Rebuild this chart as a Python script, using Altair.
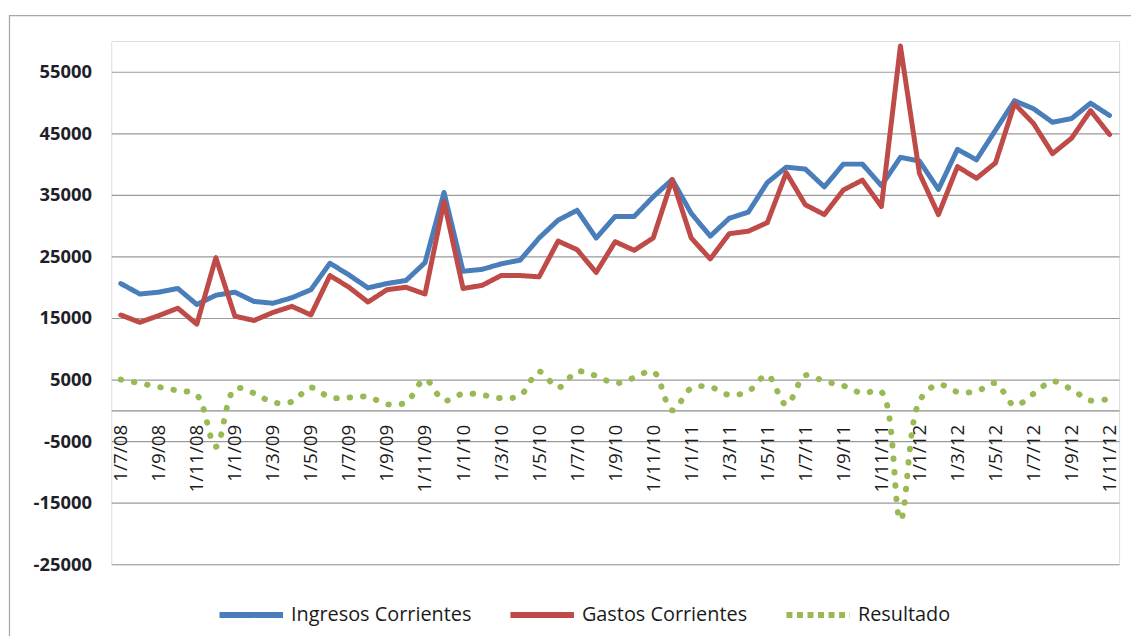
import altair as alt
import pandas as pd

fechas = [
    "1/7/08", "1/8/08", "1/9/08", "1/10/08", "1/11/08", "1/12/08",
    "1/1/09", "1/2/09", "1/3/09", "1/4/09", "1/5/09", "1/6/09", "1/7/09", "1/8/09", "1/9/09", "1/10/09", "1/11/09", "1/12/09",
    "1/1/10", "1/2/10", "1/3/10", "1/4/10", "1/5/10", "1/6/10", "1/7/10", "1/8/10", "1/9/10", "1/10/10", "1/11/10", "1/12/10",
    "1/1/11", "1/2/11", "1/3/11", "1/4/11", "1/5/11", "1/6/11", "1/7/11", "1/8/11", "1/9/11", "1/10/11", "1/11/11", "1/12/11",
    "1/1/12", "1/2/12", "1/3/12", "1/4/12", "1/5/12", "1/6/12", "1/7/12", "1/8/12", "1/9/12", "1/10/12", "1/11/12",
]
ingresos = [
    20600, 18900, 19200, 19800, 17200, 18700, 19200, 17700, 17400, 18300,
    19600, 23900, 22000, 19900, 20600, 21100, 24000, 35400, 22600, 22900,
    23800, 24400, 28000, 30900, 32500, 28000, 31500, 31500, 34700, 37500,
    32000, 28300, 31200, 32200, 37000, 39500, 39200, 36300, 40000, 40000,
    36500, 41100, 40500, 35900, 42400, 40700, 45500, 50300, 49000, 46800,
    47400, 49900, 47900,
]
gastos = [
    15500, 14300, 15400, 16600, 14000, 24800, 15300, 14600, 15900, 16900,
    15500, 21900, 20000, 17600, 19600, 20000, 18900, 33900, 19800, 20300,
    21900, 21900, 21700, 27500, 26100, 22400, 27400, 26000, 28000, 37500,
    28000, 24600, 28700, 29100, 30500, 38600, 33400, 31800, 35800, 37400,
    33100, 59200, 38500, 31800, 39600, 37700, 40200, 49800, 46600, 41700,
    44200, 48700, 44800,
]
resultado = [
    5000, 4400, 3800, 3200, 2500, -5900, 3500, 2800, 1300, 1400,
    3700, 2100, 2100, 2200, 1000, 1300, 5000, 1600, 2700, 2500,
    2000, 2400, 6300, 3700, 6300, 5600, 4400, 5300, 6300, 0,
    3600, 3800, 2500, 3100, 5700, 900, 5700, 4700, 4000, 2800,
    3000, -17800, 1500, 4200, 3000, 3100, 4400, 800, 2700, 4700,
    3400, 1600, 1900,
]
series = ["Ingresos Corrientes", "Gastos Corrientes", "Resultado"]
colores = ["#4A7EBB", "#BE4B48", "#98B954"]
y_ticks = [-25000, -15000, -5000, 5000, 15000, 25000, 35000, 45000, 55000]
x_ticks = fechas[::2]

rows = []
for f, a, b, c in zip(fechas, ingresos, gastos, resultado):
    rows.append({"fecha": f, "serie": series[0], "valor": a})
    rows.append({"fecha": f, "serie": series[1], "valor": b})
    rows.append({"fecha": f, "serie": series[2], "valor": c})
df = pd.DataFrame(rows)

W, H = 1015, 527
Y_MIN, Y_MAX = -25000, 60000
zero_offset = -H * (0 - Y_MIN) / (Y_MAX - Y_MIN)
FONT = "Open Sans"

x_enc = alt.X(
    "fecha:N", sort=fechas,
    scale=alt.Scale(type="point", padding=0.5),
    axis=alt.Axis(values=x_ticks, labelAngle=270, offset=zero_offset, grid=False,
                  ticks=False, domainColor="#8c8c8c", domainWidth=1.2,
                  labelFont=FONT, labelFontSize=19, labelColor="#1a1a1a",
                  labelPadding=14, title=None, labelOverlap=False),
)
y_enc = alt.Y(
    "valor:Q",
    scale=alt.Scale(domain=[Y_MIN, Y_MAX], nice=False, zero=False),
    axis=alt.Axis(values=y_ticks, domain=False, ticks=False, grid=True,
                  gridColor="#9a9a9a", gridWidth=1.2, labelFont=FONT, labelFontSize=18.5,
                  labelFontWeight="bold", labelPadding=20, labelColor="#1f1f2a",
                  labelExpr="datum.value + ''", title=None),
)

leg = alt.Legend(orient="none", legendX=106, legendY=543, direction="horizontal",
                 symbolType="stroke", symbolSize=4096, symbolStrokeWidth=6,
                 labelFont=FONT, labelFontSize=20, labelColor="#1a1a1a", labelLimit=400,
                 columnPadding=27, labelOffset=5, title=None, padding=0)
color = alt.Color("serie:N", scale=alt.Scale(domain=series, range=colores), legend=leg)
dash = alt.StrokeDash("serie:N",
                      scale=alt.Scale(domain=series, range=[[1, 0], [1, 0], [6, 4.6]]),
                      legend=leg)

base = alt.Chart(df)
lineas = base.transform_filter(
    alt.FieldOneOfPredicate(field="serie", oneOf=series[:2])
).mark_line(strokeWidth=5, strokeCap="round", strokeJoin="round").encode(
    x=x_enc, y=y_enc, color=color, strokeDash=dash
)
res = base.transform_filter(
    alt.FieldEqualPredicate(field="serie", equal=series[2])
).mark_line(strokeWidth=6, strokeCap="round", interpolate="catmull-rom",
            strokeDash=[0.5, 13]).encode(
    x=x_enc, y=y_enc, color=color
)
marco = alt.Chart(alt.Data(values=[{"k": 1}])).mark_rect(
    fill="transparent", stroke="#a6a6a6", strokeWidth=1.2
).encode(x=alt.value(-102.5), x2=alt.value(1040), y=alt.value(-25.5), y2=alt.value(640))

chart = alt.layer(marco, lineas, res).properties(
    width=W, height=H,
    padding={"left": 104, "top": 31, "right": 12, "bottom": 70},
    autosize=alt.AutoSizeParams(type="none"),
).configure_view(stroke=None).configure(background="white")

chart.save("out.html", embed_options={"renderer": "svg", "actions": False})
